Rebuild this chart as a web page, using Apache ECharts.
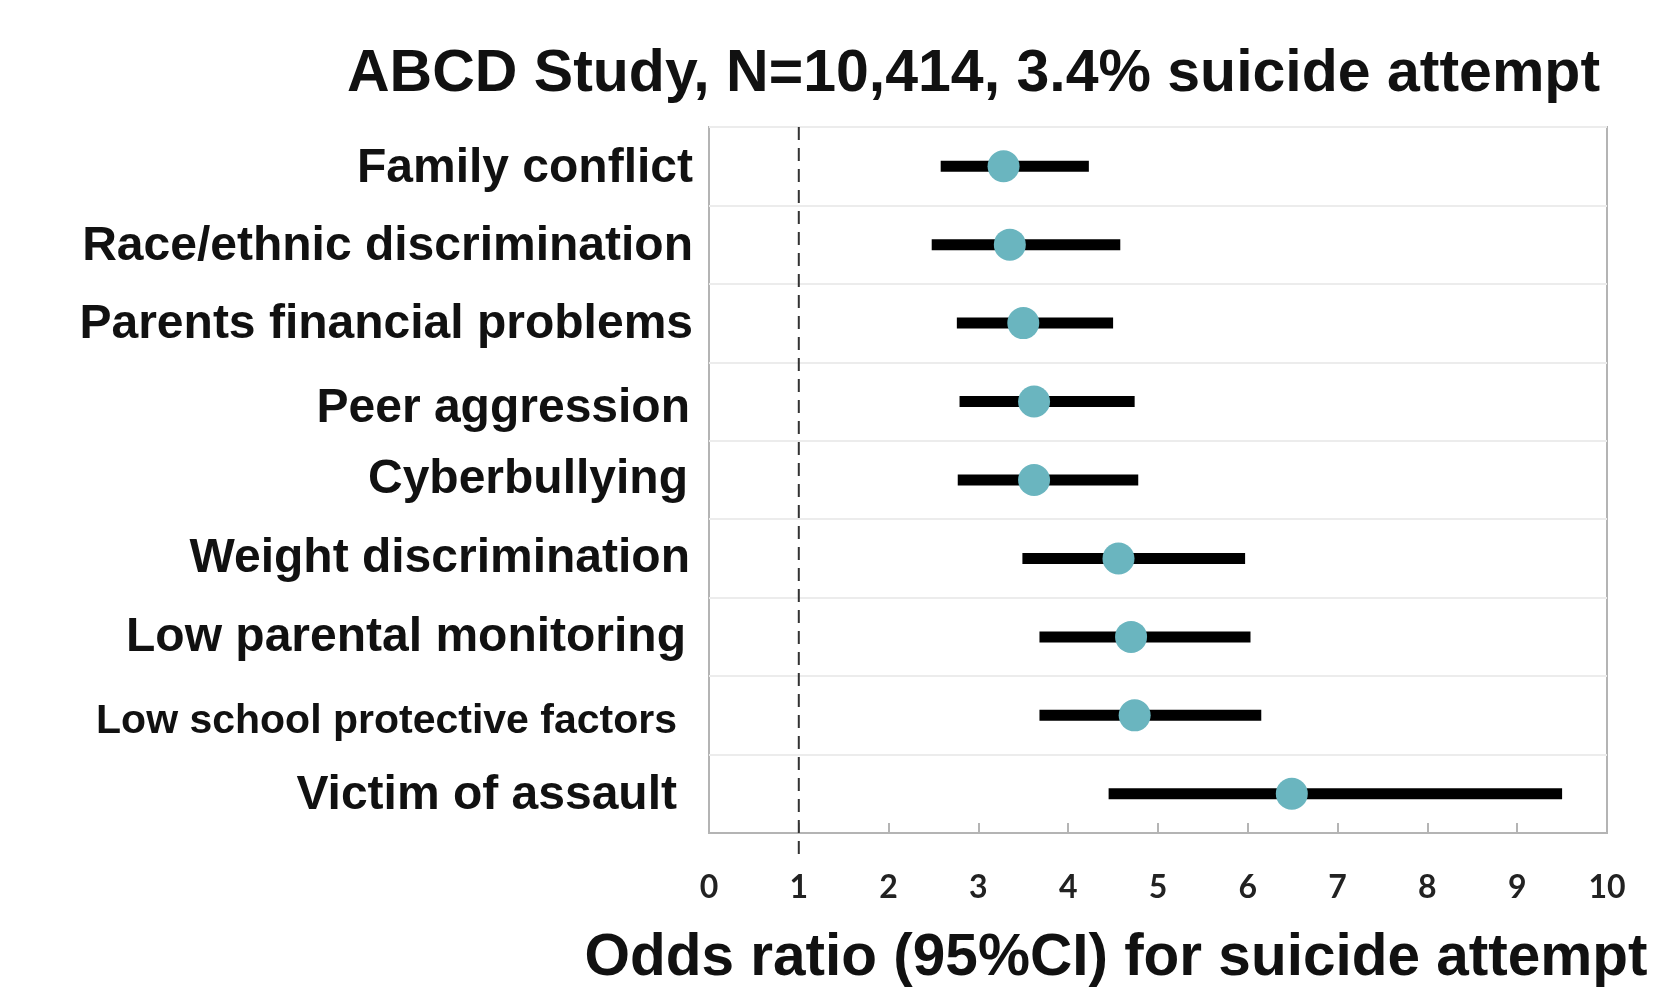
<!DOCTYPE html>
<html>
<head>
<meta charset="utf-8">
<title>ABCD Study forest plot</title>
<script src="https://cdn.jsdelivr.net/npm/echarts@6/dist/echarts.min.js"></script>
<style>
  html, body { margin: 0; padding: 0; background: #fff; }
  #chart { width: 1659px; height: 988px; }
</style>
</head>
<body>
<div id="chart"></div>
<script>
// Risk factors, top to bottom
const CATEGORIES = [
  'Family conflict',
  'Race/ethnic discrimination',
  'Parents financial problems',
  'Peer aggression',
  'Cyberbullying',
  'Weight discrimination',
  'Low parental monitoring',
  'Low school protective factors',
  'Victim of assault'
];
// Odds ratios and their 95% confidence limits
const OR_POINT = [3.28, 3.35, 3.50, 3.62, 3.62, 4.56, 4.70, 4.74, 6.49];
const CI_LOW   = [2.58, 2.48, 2.76, 2.79, 2.77, 3.49, 3.68, 3.68, 4.45];
const CI_HIGH  = [4.23, 4.58, 4.50, 4.74, 4.78, 5.97, 6.03, 6.15, 9.50];
// Null-effect reference and x-axis range
const REFERENCE_OR = 1;
const X_MIN = 0, X_MAX = 10, X_STEP = 1;

const TITLE = 'ABCD Study, N=10,414, 3.4% suicide attempt';
const X_NAME = 'Odds ratio (95%CI) for suicide attempt';

const SANS = '"Liberation Sans", Arial, sans-serif';

// per-label nudges: [extra gap to the axis, downward shift]
const LABEL_NUDGE = {
  'Family conflict': [0, 3],
  'Race/ethnic discrimination': [0, 2],
  'Parents financial problems': [0, 2],
  'Peer aggression': [3, 7],
  'Cyberbullying': [5, 0],
  'Weight discrimination': [3, 0],
  'Low parental monitoring': [7, 1],
  'Low school protective factors': [16, 6],
  'Victim of assault': [16, 2]
};

function labelStyles() {
  const r = {};
  Object.keys(LABEL_NUDGE).forEach(function (name, i) {
    const n = LABEL_NUDGE[name];
    r['l' + i] = {
      fontFamily: SANS,
      fontWeight: 'bold',
      fontSize: name === 'Low school protective factors' ? 41 : 48,
      color: '#111',
      padding: [2 * n[1], n[0], 0, 0]
    };
  });
  return r;
}
const NUDGE_KEYS = Object.keys(LABEL_NUDGE);

const chart = echarts.init(document.getElementById('chart'), null, { renderer: 'canvas' });

const option = {
  animation: false,
  backgroundColor: '#ffffff',
  title: {
    text: TITLE,
    left: 342,
    top: 40,
    textStyle: { fontFamily: SANS, fontWeight: 'bold', fontSize: 59, color: '#111' }
  },
  grid: {
    left: 709, right: 52, top: 127, bottom: 155,
    outerBoundsMode: 'none',
    containLabel: false,
    show: true,
    borderColor: '#b4b4b4',
    borderWidth: 2,
    backgroundColor: 'transparent'
  },
  xAxis: {
    type: 'value',
    min: X_MIN, max: X_MAX, interval: X_STEP,
    axisLine: { show: true, lineStyle: { color: '#b4b4b4', width: 2 } },
    axisTick: { show: true, inside: true, length: 10, lineStyle: { color: '#b4b4b4', width: 2 } },
    splitLine: { show: false },
    axisLabel: {
      margin: 39,
      fontFamily: 'Lato, "Open Sans", sans-serif',
      fontWeight: 'bold',
      fontSize: 32,
      color: '#222'
    },
    name: X_NAME,
    nameLocation: 'middle',
    nameGap: 96,
    nameTextStyle: {
      fontFamily: SANS, fontWeight: 'bold', fontSize: 58.5, color: '#111',
      padding: [0, 84, 0, 0]
    }
  },
  yAxis: {
    type: 'category',
    data: CATEGORIES,
    inverse: true,
    axisLine: { show: false },
    axisTick: { show: false },
    splitLine: { show: true, lineStyle: { color: '#ececec', width: 2 } },
    axisLabel: {
      margin: 16,
      formatter: function (v) {
        const k = NUDGE_KEYS.indexOf(v);
        return k < 0 ? v : '{l' + k + '|' + v + '}';
      },
      fontFamily: SANS, fontWeight: 'bold', fontSize: 48, color: '#111',
      rich: labelStyles()
    }
  },
  series: [
    {
      // dashed line at OR = 1, running a little past the axis
      type: 'custom',
      name: 'reference',
      data: [[REFERENCE_OR, 0]],
      encode: { x: 0, y: 1 },
      clip: false,
      z: 3,
      renderItem: function (params, api) {
        const x = api.coord([api.value(0), 0])[0];
        const cs = params.coordSys;
        return {
          type: 'line',
          shape: { x1: x, y1: cs.y, x2: x, y2: cs.y + cs.height + 28 },
          style: { stroke: '#333', lineWidth: 2, lineDash: [13, 8] }
        };
      }
    },
    {
      // confidence-interval bars
      type: 'custom',
      name: '95% CI',
      data: CATEGORIES.map(function (c, i) { return [CI_LOW[i], CI_HIGH[i], i]; }),
      encode: { x: [0, 1], y: 2 },
      z: 4,
      renderItem: function (params, api) {
        const lo = api.coord([api.value(0), api.value(2)]);
        const hi = api.coord([api.value(1), api.value(2)]);
        return {
          type: 'line',
          shape: { x1: lo[0], y1: lo[1], x2: hi[0], y2: hi[1] },
          style: { stroke: '#000', lineWidth: 11, lineCap: 'butt' }
        };
      }
    },
    {
      type: 'scatter',
      name: 'Odds ratio',
      data: CATEGORIES.map(function (c, i) { return [OR_POINT[i], c]; }),
      symbol: 'circle',
      symbolSize: 32,
      itemStyle: { color: '#6ab5bf', opacity: 1 },
      z: 5
    }
  ]
};

chart.setOption(option);
</script>
</body>
</html>
